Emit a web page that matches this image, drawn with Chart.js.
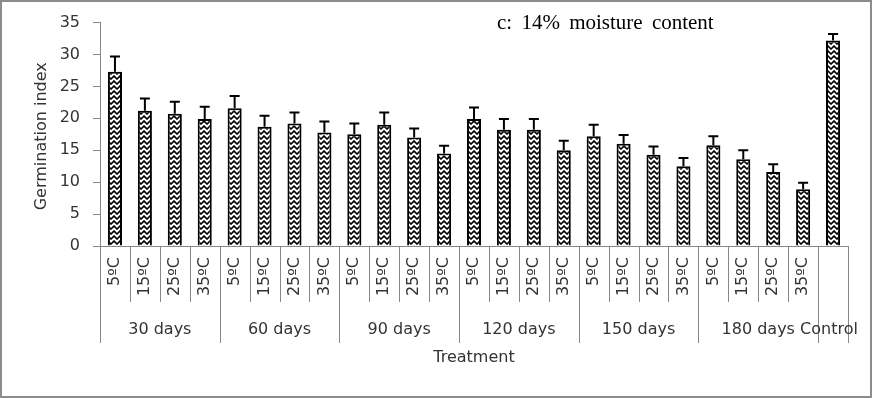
<!DOCTYPE html>
<html>
<head>
<meta charset="utf-8">
<script src="https://cdn.jsdelivr.net/npm/chart.js@4.4.1/dist/chart.umd.min.js"></script>
<style>
  html, body { margin: 0; padding: 0; background: #fff; overflow: hidden; }
  #wrap { width: 872px; height: 398px; position: relative; }
</style>
</head>
<body>
<div id="wrap"><canvas id="myChart"></canvas></div>
<script>
const groups = ['30 days', '60 days', '90 days', '120 days', '150 days', '180 days'];
const temps = ['5ºC', '15ºC', '25ºC', '35ºC'];
const controlLabel = 'Control';

// germination index per treatment (4 temps x 6 storage times), then control
const values = [
  27.3, 21.2, 20.7, 19.9,
  21.6, 18.7, 19.2, 17.8,
  17.5, 19.0, 17.0, 14.5,
  19.9, 18.2, 18.2, 15.0,
  17.2, 16.0, 14.3, 12.5,
  15.8, 13.6, 11.6, 8.9,
  32.2
];
const errors = [
  2.4, 1.9, 1.9, 1.9,
  1.9, 1.7, 1.7, 1.7,
  1.7, 1.9, 1.4, 1.2,
  1.8, 1.7, 1.7, 1.5,
  1.8, 1.4, 1.3, 1.3,
  1.4, 1.4, 1.2, 1.0,
  1.0
];
const yTicks = [0, 5, 10, 15, 20, 25, 30, 35];

const labels = [];
groups.forEach(() => temps.forEach(t => labels.push(t)));
labels.push('');

// zigzag hatch fill (stacked chevrons)
function zigzag() {
  const c = document.createElement('canvas');
  c.width = 6; c.height = 5;
  const g = c.getContext('2d');
  g.fillStyle = '#fff';
  g.fillRect(0, 0, 6, 5);
  g.strokeStyle = '#000';
  g.lineWidth = 1.6;
  g.beginPath();
  g.moveTo(-0.5, 0.5); g.lineTo(3, 4); g.lineTo(6.5, 0.5);
  g.stroke();
  return g.createPattern(c, 'repeat');
}

const sansFont = "'DejaVu Sans', sans-serif";

const extras = {
  id: 'extras',
  beforeDraw(chart) {
    const ctx = chart.ctx;
    ctx.save();
    ctx.fillStyle = '#fff';
    ctx.fillRect(0, 0, chart.width, chart.height);
    ctx.restore();
  },
  afterDatasetsDraw(chart) {
    const ctx = chart.ctx;
    const y = chart.scales.y;
    const meta = chart.getDatasetMeta(0);
    ctx.save();
    ctx.strokeStyle = '#000';
    ctx.lineWidth = 2;
    meta.data.forEach((bar, i) => {
      const top = y.getPixelForValue(values[i] + errors[i]);
      const base = y.getPixelForValue(values[i]);
      ctx.beginPath();
      ctx.moveTo(bar.x, base);
      ctx.lineTo(bar.x, top);
      ctx.moveTo(bar.x - 5, top);
      ctx.lineTo(bar.x + 5, top);
      ctx.stroke();
    });
    ctx.restore();
  },
  afterDraw(chart) {
    const ctx = chart.ctx;
    const x = chart.scales.x;
    const area = chart.chartArea;
    const half = (x.getPixelForValue(1) - x.getPixelForValue(0)) / 2;
    const axisY = area.bottom;
    ctx.save();
    // category separators under the axis
    ctx.strokeStyle = '#888';
    ctx.lineWidth = 1;
    for (let i = 0; i <= labels.length; i++) {
      const px = Math.round(x.getPixelForValue(i) - half) + 0.5;
      const long = i % 4 === 0 || i >= 24;
      ctx.beginPath();
      ctx.moveTo(px, axisY);
      ctx.lineTo(px, axisY + (long ? 97 : 56));
      ctx.stroke();
    }
    // group labels
    ctx.fillStyle = '#333';
    ctx.font = '16px ' + sansFont;
    ctx.textAlign = 'center';
    ctx.textBaseline = 'middle';
    groups.forEach((g, k) => {
      const cx = (x.getPixelForValue(k * 4) + x.getPixelForValue(k * 4 + 3)) / 2;
      ctx.fillText(g, cx, axisY + 84);
    });
    ctx.fillText(controlLabel, x.getPixelForValue(24) - 4, axisY + 84);
    // axis titles
    ctx.fillText('Treatment', (area.left + area.right) / 2, axisY + 112);
    ctx.save();
    ctx.translate(42, (area.top + area.bottom) / 2 + 2);
    ctx.rotate(-Math.PI / 2);
    ctx.fillText('Germination index', 0, 0);
    ctx.restore();
    // panel title
    ctx.fillStyle = '#000';
    ctx.font = "21px 'Liberation Serif', serif";
    ctx.wordSpacing = '4px';
    ctx.textAlign = 'left';
    ctx.fillText('c: 14% moisture content', 497, 23);
    ctx.wordSpacing = '0px';
    // outer frame
    ctx.strokeStyle = '#8c8c8c';
    ctx.lineWidth = 2;
    ctx.strokeRect(1, 1, chart.width - 2, chart.height - 2);
    ctx.restore();
  }
};

const config = {
  type: 'bar',
  data: {
    labels: labels,
    datasets: [{
      data: values,
      backgroundColor: zigzag(),
      borderColor: '#000',
      borderWidth: 2,
      barPercentage: 0.47,
      categoryPercentage: 1
    }]
  },
  options: {
    responsive: true,
    maintainAspectRatio: false,
    animation: false,
    layout: { padding: { left: 0, right: 24, top: 22, bottom: 0 } },
    plugins: {
      legend: { display: false },
      tooltip: { enabled: false }
    },
    scales: {
      x: {
        grid: { display: false, drawTicks: false },
        border: { display: true, color: '#888', width: 1 },
        ticks: {
          autoSkip: false,
          minRotation: 90,
          maxRotation: 90,
          padding: 11,
          color: '#333',
          font: { family: sansFont, size: 16 }
        },
        afterFit(scale) { scale.height = 152; }
      },
      y: {
        min: 0,
        max: 35,
        afterBuildTicks(scale) { scale.ticks = yTicks.map(v => ({ value: v })); },
        grid: { display: true, drawOnChartArea: false, drawTicks: true, tickLength: 7, color: '#888' },
        border: { display: true, color: '#888', width: 1 },
        ticks: {
          padding: 13,
          color: '#333',
          font: { family: sansFont, size: 16 }
        },
        afterFit(scale) { scale.width = 100; }
      }
    }
  },
  plugins: [extras]
};

const myChart = new Chart(document.getElementById('myChart'), config);
</script>
</body>
</html>
